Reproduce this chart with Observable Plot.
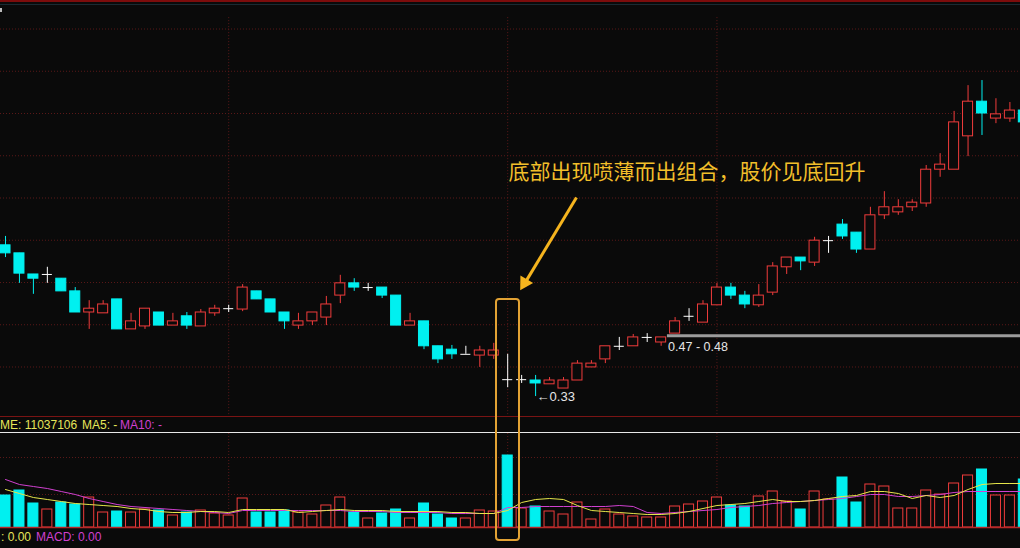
<!DOCTYPE html>
<html>
<head>
<meta charset="utf-8">
<script src="https://cdn.jsdelivr.net/npm/d3@7"></script>
<script src="https://cdn.jsdelivr.net/npm/@observablehq/plot@0.6"></script>
<style>
  html, body { margin: 0; padding: 0; background: #0a0a0a; }
  #wrap { position: relative; width: 1020px; height: 548px; overflow: hidden; background: #0a0a0a; font-family: "Liberation Sans", Arial, sans-serif; }
  .abs { position: absolute; }
  .txt { font-size: 12px; line-height: 16px; white-space: nowrap; }
</style>
</head>
<body>
<div id="wrap">
  <div id="price" class="abs" style="left:0;top:0"></div>
  <div id="vol" class="abs" style="left:0;top:432px"></div>
  <div class="abs" style="left:0;top:0;width:1020px;height:2px;background:#7c0c0c"></div>
  <div class="abs" style="left:0;top:4px;width:1020px;height:1px;background:#1a2a32"></div>
  <div class="abs" style="left:0;top:8px;width:2px;height:4px;background:#bbbbbb"></div>
  <div class="abs" style="left:0;top:416px;width:1020px;height:1px;background:#7a1414"></div>
  <div class="abs txt" style="left:0;top:417px;color:#e6e65a">ME: 11037106</div>
  <div class="abs txt" style="left:82px;top:417px;color:#e6e65a">MA5: -</div>
  <div class="abs txt" style="left:120px;top:417px;color:#d040d0">MA10: -</div>
  <div class="abs" style="left:0;top:432px;width:1020px;height:1px;background:#e8e8e8"></div>
  <div class="abs txt" style="left:1px;top:529px;color:#e6e65a">: 0.00</div>
  <div class="abs txt" style="left:36px;top:529px;color:#d040d0">MACD: 0.00</div>
  <div id="box" class="abs" style="border:2px solid #e2a234;border-radius:4px;box-sizing:border-box"></div>
</div>
<script>
// ---- data ----
const open  = [0.688,0.669,0.619,0.619,0.609,0.579,0.529,0.527,0.560,0.489,0.496,0.529,0.498,0.520,0.496,0.527,0.538,0.536,0.579,0.560,0.529,0.498,0.508,0.517,0.569,0.598,0.588,0.588,0.569,0.498,0.508,0.449,0.441,0.430,0.427,0.427,0.370,0.370,0.368,0.359,0.349,0.368,0.399,0.418,0.449,0.449,0.470,0.458,0.479,0.520,0.505,0.546,0.588,0.569,0.546,0.576,0.636,0.659,0.647,0.699,0.737,0.718,0.678,0.759,0.766,0.778,0.787,0.867,0.867,0.946,1.028,0.988,0.988,1.007];
const high  = [0.709,0.669,0.619,0.636,0.609,0.588,0.557,0.557,0.560,0.527,0.538,0.529,0.527,0.529,0.536,0.546,0.546,0.595,0.579,0.560,0.529,0.527,0.529,0.567,0.617,0.609,0.598,0.588,0.569,0.527,0.508,0.449,0.451,0.449,0.449,0.456,0.430,0.380,0.380,0.375,0.375,0.415,0.415,0.449,0.470,0.477,0.479,0.470,0.517,0.538,0.557,0.598,0.598,0.579,0.595,0.647,0.659,0.659,0.707,0.709,0.749,0.718,0.778,0.815,0.796,0.796,0.877,0.905,1.005,1.066,1.078,1.035,1.026,1.019];
const low   = [0.659,0.598,0.572,0.598,0.579,0.529,0.489,0.527,0.489,0.489,0.489,0.498,0.498,0.489,0.496,0.520,0.529,0.531,0.560,0.529,0.489,0.489,0.498,0.498,0.550,0.579,0.579,0.562,0.498,0.498,0.441,0.408,0.418,0.430,0.399,0.418,0.351,0.361,0.330,0.359,0.349,0.368,0.399,0.408,0.439,0.449,0.458,0.449,0.479,0.508,0.505,0.546,0.560,0.538,0.541,0.569,0.619,0.628,0.638,0.669,0.702,0.669,0.678,0.749,0.759,0.768,0.778,0.849,0.867,0.898,0.948,0.976,0.979,0.972];
const close = [0.669,0.621,0.609,0.619,0.579,0.529,0.538,0.548,0.489,0.508,0.538,0.498,0.508,0.498,0.529,0.538,0.538,0.588,0.560,0.529,0.508,0.508,0.529,0.548,0.598,0.588,0.588,0.569,0.498,0.508,0.449,0.418,0.430,0.430,0.439,0.439,0.370,0.370,0.361,0.368,0.368,0.408,0.408,0.449,0.449,0.470,0.470,0.470,0.508,0.520,0.548,0.588,0.569,0.548,0.569,0.638,0.659,0.650,0.699,0.699,0.709,0.678,0.759,0.778,0.778,0.789,0.867,0.879,0.979,1.028,1.000,0.998,1.007,0.979];
// volume in 10k shares
const volume = [736,851,552,414,575,529,690,345,368,345,414,391,276,345,391,322,276,667,345,345,391,345,299,506,690,345,207,322,414,207,552,299,207,207,391,368,1656,437,483,368,299,575,184,414,299,253,230,230,483,529,598,690,506,483,713,828,598,414,828,644,1150,575,989,943,437,437,851,759,1012,1196,1334,736,736,1104];
const ma5  = [874,782,690,644,598,552,529,506,483,437,414,368,345,345,368,368,345,414,414,414,414,345,368,391,414,391,391,391,368,368,368,368,345,345,322,322,391,575,644,667,644,506,391,368,345,322,299,299,322,368,437,506,529,552,598,644,598,598,621,667,713,736,828,828,782,667,736,690,736,874,989,1012,1012,1012];
const ma10 = [1104,989,943,897,828,759,667,598,529,483,460,437,414,391,368,345,322,391,391,391,391,391,391,391,391,368,368,368,345,345,345,345,322,322,322,322,460,460,483,483,483,483,483,483,506,483,345,322,345,368,391,414,460,483,506,552,575,598,621,644,667,713,759,759,713,713,736,759,805,828,828,828,828,828];
const gridPrices = [0.4,0.5,0.6,0.7,0.8,0.9,1.0,1.1,1.2];
const monthStarts = [16,36,51];
const volGrid = [759,1610];
const lowLabel = "←0.33";
const bandLevel = 0.474;
const bandLabel = "0.47 - 0.48";
const note = "底部出现喷薄而出组合，股价见底回升";

// ---- build ----
const RED = "#f03c3c", CYAN = "#00f0f0", WHITE = "#ffffff", BG = "#0a0a0a", GRID = "#5a1818", ORANGE = "#f5b41e";
const bars = open.map((o, i) => ({
  i, o, h: high[i], l: low[i], c: close[i], v: volume[i], ma5: ma5[i], ma10: ma10[i],
  volDown: close[i] < o || (close[i] === o && i > 0 && close[i] < close[i - 1])
}));
const up = bars.filter(d => d.c > d.o);
const down = bars.filter(d => d.c < d.o);
const doji = bars.filter(d => d.c === d.o);
const hw = 0.36;
const xDomain = [-0.3584, 72.76];

const price = Plot.plot({
  width: 1020, height: 416,
  marginTop: 0, marginBottom: 0, marginLeft: 0, marginRight: 0,
  style: { background: "transparent", overflow: "visible" },
  x: { type: "linear", domain: xDomain, axis: null },
  y: { domain: [0.2828, 1.2675], axis: null },
  marks: [
    Plot.ruleY(gridPrices, { stroke: GRID, strokeDasharray: "1,2" }),
    Plot.ruleX(monthStarts, { stroke: GRID, strokeDasharray: "1,2", y1: 1.227, y2: 0.2828 }),
    Plot.ruleY([bandLevel], { x1: 47.45, x2: 74, stroke: "#9c9c9c", strokeWidth: 3 }),
    // up candles (hollow red)
    Plot.ruleX(up, { x: "i", y1: "h", y2: "c", stroke: RED, clip: true }),
    Plot.ruleX(up, { x: "i", y1: "o", y2: "l", stroke: RED, clip: true }),
    Plot.rect(up, { x1: d => d.i - hw, x2: d => d.i + hw, y1: "o", y2: "c", fill: BG, stroke: RED, clip: true }),
    // down candles (filled cyan)
    Plot.ruleX(down, { x: "i", y1: "h", y2: "l", stroke: CYAN, clip: true }),
    Plot.rect(down, { x1: d => d.i - hw, x2: d => d.i + hw, y1: "o", y2: "c", fill: CYAN, stroke: CYAN, clip: true }),
    // doji (white cross)
    Plot.ruleX(doji, { x: "i", y1: "h", y2: "l", stroke: WHITE, clip: true }),
    Plot.ruleY(doji, { y: "o", x1: d => d.i - hw, x2: d => d.i + hw, stroke: WHITE, clip: true }),
    // labels
    Plot.text([bars[38]], { x: "i", y: "l", text: () => lowLabel, textAnchor: "start", dx: 1, fill: "#e6e6e6", fontSize: 13, fontFamily: "Liberation Sans, Arial, sans-serif" }),
    Plot.text([bandLevel], { x: 47.5, y: d => d, text: () => bandLabel, textAnchor: "start", dy: 11, fill: "#e6e6e6", fontSize: 12.5, fontFamily: "Liberation Sans, Arial, sans-serif" }),
    Plot.text([note], { x: 36.05, y: 0.860, text: d => d, textAnchor: "start", fill: "#f2bf2a", fontSize: 21, fontFamily: "Noto Sans CJK SC, sans-serif" }),
    // arrow: shaft + solid head
    Plot.link([0], { x1: 40.93, y1: 0.801, x2: 37.35, y2: 0.605, stroke: ORANGE, strokeWidth: 3 }),
    Plot.dot([0], { x: 37.21, y: 0.599, symbol: "triangle", r: 5.5, rotate: 211, fill: ORANGE, stroke: "none" })
  ]
});
document.getElementById("price").appendChild(price);

const volUp = bars.filter(d => !d.volDown);
const volDn = bars.filter(d => d.volDown);
const vol = Plot.plot({
  width: 1020, height: 116,
  marginTop: 0, marginBottom: 21, marginLeft: 0, marginRight: 0,
  style: { background: "transparent", overflow: "visible" },
  x: { type: "linear", domain: xDomain, axis: null },
  y: { domain: [0, 2185], axis: null },
  marks: [
    Plot.ruleY(volGrid, { stroke: GRID, strokeDasharray: "1,2" }),
    Plot.ruleX(monthStarts, { stroke: GRID, strokeDasharray: "1,2", y1: 0, y2: 2185 }),
    Plot.rect(volUp, { x1: d => d.i - hw, x2: d => d.i + hw, y1: 0, y2: "v", fill: BG, stroke: RED, clip: true }),
    Plot.rect(volDn, { x1: d => d.i - hw, x2: d => d.i + hw, y1: 0, y2: "v", fill: CYAN, stroke: CYAN, clip: true }),
    Plot.line(bars, { x: "i", y: "ma10", stroke: "#d040d0", strokeWidth: 1, clip: true }),
    Plot.line(bars, { x: "i", y: "ma5", stroke: "#e6e64a", strokeWidth: 1, clip: true }),
    Plot.ruleY([0], { stroke: "#b82828", strokeWidth: 1.5 })
  ]
});
document.getElementById("vol").appendChild(vol);

// annotation box around the bottom candle, positioned via the x scale
const xs = price.scale("x");
const cx = xs.apply(36);
const box = document.getElementById("box");
box.style.left = (cx - 12.5) + "px";
box.style.width = "25px";
box.style.top = "298px";
box.style.height = "243px";
</script>
</body>
</html>
